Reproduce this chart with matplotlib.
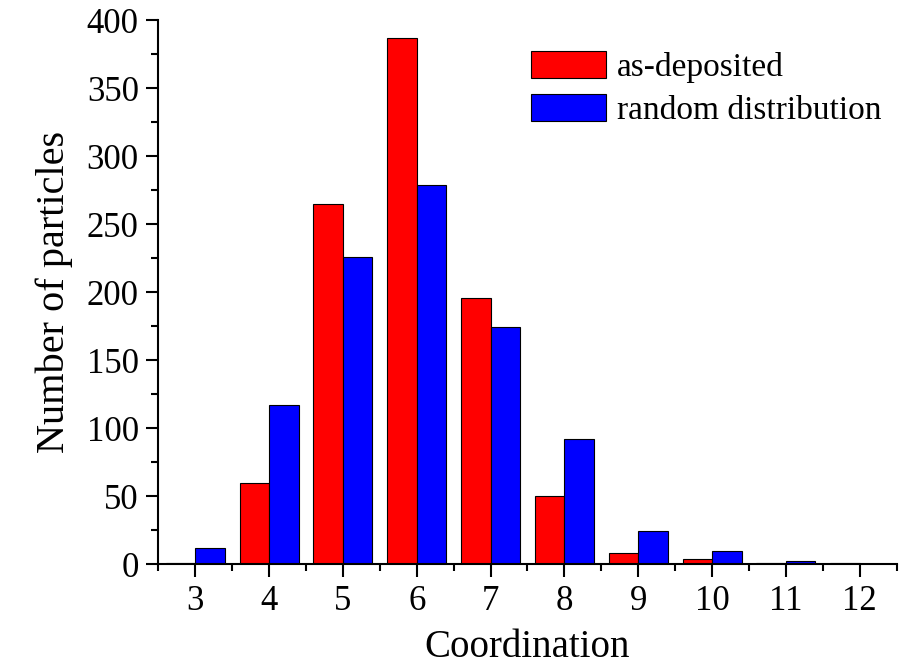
import matplotlib
matplotlib.use("Agg")
import matplotlib.pyplot as plt
import numpy as np
from matplotlib.ticker import MultipleLocator

coordination = [3, 4, 5, 6, 7, 8, 9, 10, 11, 12]
as_deposited = [1, 60, 265, 387, 196, 50, 8, 4, 1, 1]
random_dist = [12, 117, 226, 279, 174, 92, 24, 10, 2, 0]

plt.rcParams['font.family'] = ['Liberation Serif', 'DejaVu Serif']

fig = plt.figure(figsize=(9.15, 6.7), dpi=100)
ax = fig.add_axes([0.173, 0.158, 0.807, 0.812])

x = np.array(coordination)
w = 0.4
ax.bar(x - w / 2, as_deposited, width=w, color='#ff0000', edgecolor='black', linewidth=0.8, label='as-deposited')
ax.bar(x + w / 2, random_dist, width=w, color='#0000ff', edgecolor='black', linewidth=0.8, label='random distribution')

ax.set_xlim(2.5, 12.5)
ax.set_ylim(0, 400)
ax.set_xticks(coordination)
ax.xaxis.set_minor_locator(MultipleLocator(0.5))
ax.yaxis.set_major_locator(MultipleLocator(50))
ax.yaxis.set_minor_locator(MultipleLocator(25))

for side in ('top', 'right'):
    ax.spines[side].set_visible(False)
for side in ('left', 'bottom'):
    ax.spines[side].set_linewidth(1.5)

ax.tick_params(which='major', direction='out', length=9, width=1.5, labelsize=25)
ax.tick_params(which='minor', direction='out', length=5, width=1.5)
ax.tick_params(axis='x', which='major', pad=6)
ax.tick_params(axis='y', which='major', pad=5)

ax.set_xlabel('Coordination', fontsize=28, labelpad=8)
ax.set_ylabel('Number of particles', fontsize=29, labelpad=10)

ax.legend(loc='upper left', bbox_to_anchor=(0.505, 0.943), frameon=False,
          fontsize=24, handlelength=2.25, handleheight=0.87, labelspacing=0.33,
          handletextpad=0.33, borderpad=0, borderaxespad=0)

fig.savefig('out.png', dpi=100)
